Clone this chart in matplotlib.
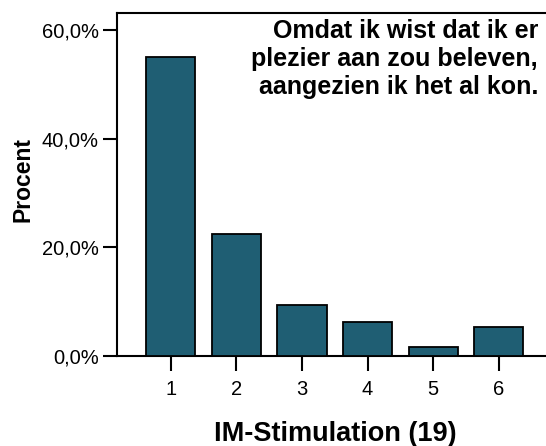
import matplotlib.pyplot as plt
import numpy as np

plt.rcParams['font.family'] = ['Liberation Sans', 'DejaVu Sans']

categories = ['1', '2', '3', '4', '5', '6']
percent = [55.0, 22.5, 9.3, 6.2, 1.6, 5.4]
yticks = [0, 20, 40, 60]
ytick_labels = ['0,0%', '20,0%', '40,0%', '60,0%']
title_text = 'Omdat ik wist dat ik er\nplezier aan zou beleven,\naangezien ik het al kon.'

fig = plt.figure(figsize=(5.46, 4.46), dpi=100)
ax = fig.add_axes([117 / 546, 90 / 446, 1 - 117 / 546, (356 - 13) / 446])

x = np.arange(1, len(categories) + 1)
ax.bar(x, percent, width=0.75, color='#1f5e73', edgecolor='black', linewidth=1.3, zorder=3)

ax.set_xlim(0.18, 6.72)
ax.set_ylim(0, 63.1)
ax.set_xticks(x)
ax.set_xticklabels(categories)
ax.set_yticks(yticks)
ax.set_yticklabels(ytick_labels)

ax.spines['right'].set_visible(False)
for s in ['left', 'bottom', 'top']:
    ax.spines[s].set_linewidth(1.5)

ax.tick_params(axis='both', direction='out', width=1.5, labelsize=14.5, colors='black')
ax.tick_params(axis='x', length=11, pad=6)
ax.tick_params(axis='y', length=10, pad=3)

ax.set_xlabel('IM-Stimulation (19)', fontsize=19.5, fontweight='bold')
ax.xaxis.set_label_coords((335 - 117) / 429, (356 - 441) / 343)
ax.xaxis.label.set_va('baseline')
ax.set_ylabel('Procent', fontsize=16.5, fontweight='bold')
ax.yaxis.set_label_coords((23 - 117) / 429, (356 - 179) / 343)
ax.yaxis.label.set_va('center')

ax.text((538 - 117) / 429, (356 - 19) / 343, title_text, transform=ax.transAxes,
        ha='right', va='top', multialignment='right',
        fontsize=18, fontweight='bold', linespacing=1.2)

fig.savefig('out.png', dpi=100)
